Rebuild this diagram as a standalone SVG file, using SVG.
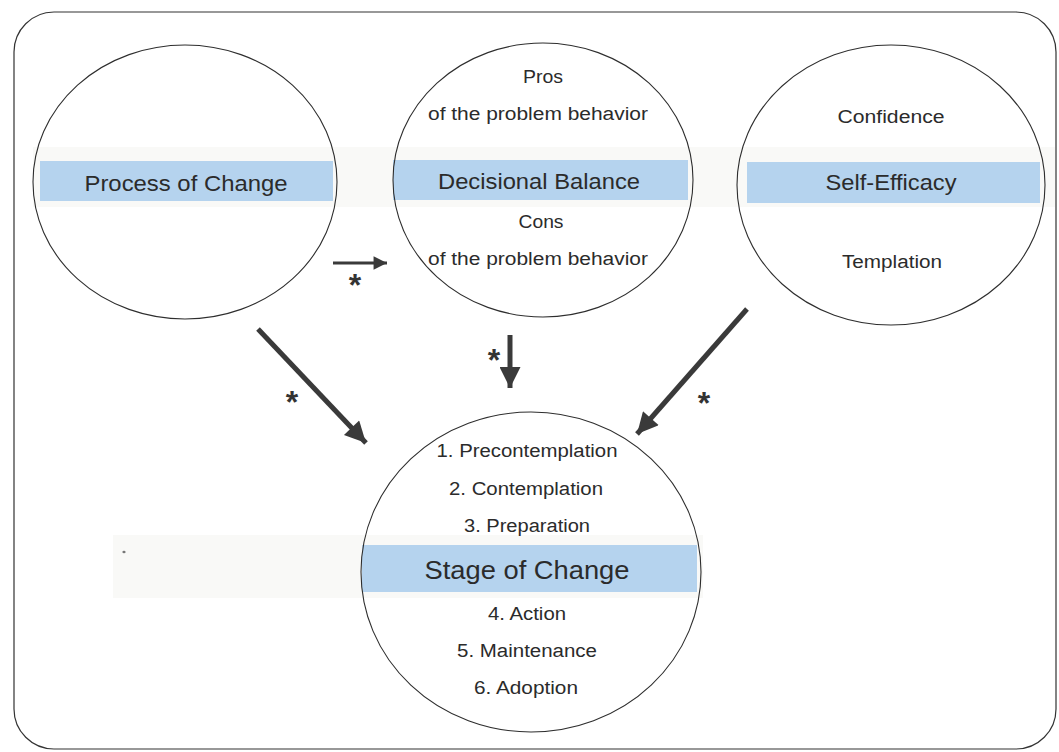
<svg xmlns="http://www.w3.org/2000/svg" width="1059" height="752" viewBox="0 0 1059 752">
<style>
.frame{fill:#fff;stroke:#333;stroke-width:1.2}
.strip{fill:#f9f9f7}
.band{fill:#b5d3ee}
.ring{fill:none;stroke:#2e2e2e;stroke-width:1.1}
.title{font-family:"Liberation Sans",Arial,sans-serif;fill:#2b2b2b;text-anchor:middle}
.small{font-family:"Liberation Sans",Arial,sans-serif;fill:#2b2b2b;text-anchor:middle;font-size:18px}
.star{font-family:"Liberation Sans",Arial,sans-serif;fill:#333;font-weight:bold;font-size:32px;text-anchor:middle}
.shaft{stroke:#3a3a3a;fill:none}
</style>
<defs>
<marker id="ah" viewBox="0 0 10 10" refX="10" refY="5" markerWidth="4.6" markerHeight="4.2" orient="auto" markerUnits="strokeWidth">
<path d="M0,0 L10,5 L0,10 z" fill="#3a3a3a"/>
</marker>
<marker id="ahs" viewBox="0 0 10 10" refX="10" refY="5" markerWidth="5" markerHeight="4.2" orient="auto" markerUnits="strokeWidth">
<path d="M0,0 L10,5 L0,10 z" fill="#3a3a3a"/>
</marker>
</defs>
<rect width="1059" height="752" fill="#fff"/>
<rect class="frame" x="14" y="12" width="1042" height="737" rx="40" ry="40"/>
<rect class="strip" x="33" y="147" width="1022" height="60"/>
<rect class="strip" x="113" y="535" width="590" height="63"/>
<ellipse cx="124" cy="552" rx="1.6" ry="1.2" fill="#777"/>

<g id="process-of-change">
<rect class="band" x="40" y="161" width="293" height="40"/>
<ellipse class="ring" cx="185" cy="182" rx="152" ry="137"/>
<text class="title" x="186" y="191" font-size="22" textLength="203" lengthAdjust="spacingAndGlyphs">Process of Change</text>
</g>

<g id="decisional-balance">
<rect class="band" x="393" y="160" width="295" height="40"/>
<ellipse class="ring" cx="543" cy="180" rx="150" ry="137"/>
<text class="small" x="543" y="83" textLength="40" lengthAdjust="spacingAndGlyphs">Pros</text>
<text class="small" x="538" y="120" textLength="220" lengthAdjust="spacingAndGlyphs">of the problem behavior</text>
<text class="title" x="539" y="189" font-size="22" textLength="202" lengthAdjust="spacingAndGlyphs">Decisional Balance</text>
<text class="small" x="541" y="228" textLength="45" lengthAdjust="spacingAndGlyphs">Cons</text>
<text class="small" x="538" y="265" textLength="220" lengthAdjust="spacingAndGlyphs">of the problem behavior</text>
</g>

<g id="self-efficacy">
<rect class="band" x="747" y="162" width="293" height="41"/>
<ellipse class="ring" cx="891" cy="185" rx="154" ry="140"/>
<text class="small" x="891" y="123" textLength="107" lengthAdjust="spacingAndGlyphs">Confidence</text>
<text class="title" x="891" y="190" font-size="22" textLength="131" lengthAdjust="spacingAndGlyphs">Self-Efficacy</text>
<text class="small" x="892" y="268" textLength="100" lengthAdjust="spacingAndGlyphs">Templation</text>
</g>

<g id="stage-of-change">
<rect class="band" x="362" y="545" width="335" height="47"/>
<ellipse class="ring" cx="531" cy="572" rx="170" ry="160"/>
<text class="small" x="527" y="457" textLength="181" lengthAdjust="spacingAndGlyphs">1. Precontemplation</text>
<text class="small" x="526" y="495" textLength="154" lengthAdjust="spacingAndGlyphs">2. Contemplation</text>
<text class="small" x="527" y="532" textLength="126" lengthAdjust="spacingAndGlyphs">3. Preparation</text>
<text class="title" x="527" y="579" font-size="26" textLength="205" lengthAdjust="spacingAndGlyphs">Stage of Change</text>
<text class="small" x="527" y="620" textLength="78" lengthAdjust="spacingAndGlyphs">4. Action</text>
<text class="small" x="527" y="657" textLength="140" lengthAdjust="spacingAndGlyphs">5. Maintenance</text>
<text class="small" x="526" y="694" textLength="104" lengthAdjust="spacingAndGlyphs">6. Adoption</text>
</g>

<g id="connectors">
<line class="shaft" x1="333" y1="263" x2="387" y2="263" stroke-width="3.2" marker-end="url(#ahs)"/>
<text class="star" x="355" y="296">*</text>
<line class="shaft" x1="258" y1="329" x2="366" y2="443" stroke-width="5" marker-end="url(#ah)"/>
<text class="star" x="292" y="413">*</text>
<line class="shaft" x1="510" y1="335" x2="510" y2="388" stroke-width="5" marker-end="url(#ah)"/>
<text class="star" x="494" y="371">*</text>
<line class="shaft" x1="747" y1="309" x2="637" y2="434" stroke-width="5" marker-end="url(#ah)"/>
<text class="star" x="704" y="414">*</text>
</g>
</svg>
